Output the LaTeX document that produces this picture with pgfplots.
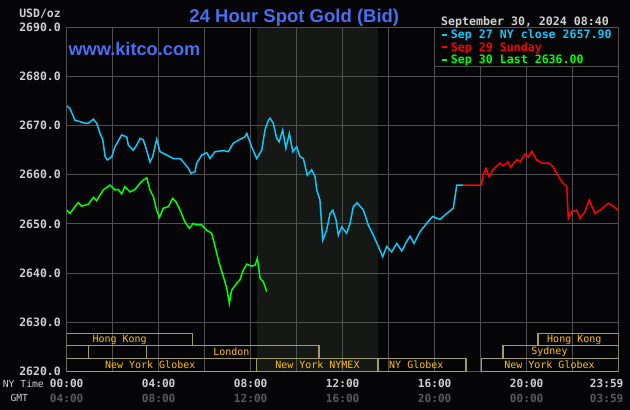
\documentclass[border=0pt]{standalone}
\usepackage{pgfplots}
\pgfplotsset{compat=1.18}
\usepackage{fontspec}
\setmainfont{Liberation Sans}
\newfontfamily\monof{DejaVu Sans Mono}
\newfontfamily\sansf{Liberation Sans}
\definecolor{bg}{HTML}{050507}
\definecolor{gridc}{HTML}{505050}
\definecolor{shadec}{HTML}{151815}
\definecolor{khaki}{HTML}{A09B6E}
\definecolor{gold}{HTML}{FFC300}
\definecolor{titlec}{HTML}{4B6EF0}
\definecolor{cyanc}{HTML}{10C8F8}
\definecolor{redc}{HTML}{FF0000}
\definecolor{greenc}{HTML}{00FF00}
\definecolor{labc}{HTML}{D0D0D0}
\definecolor{gmtc}{HTML}{5A5A5A}
\tikzset{sesslab/.style={text=gold, font=\monof\fontsize{10}{10}\selectfont, inner sep=0pt},
  sessbox/.style={draw=khaki, line width=1.5pt}}
\begin{document}
\begin{tikzpicture}
\useasboundingbox (0,0) rectangle (630pt,-410pt);
\fill[bg] (0,0) rectangle (630pt,-410pt);
% NYMEX session shading (8:20 - 13:30)
\fill[shadec] (256.7pt,-27.3pt) rectangle (378pt,-371.3pt);
\begin{axis}[
  at={(66.7pt,-371.3pt)}, anchor=south west,
  scale only axis, width=552pt, height=344pt,
  xmin=0, xmax=24, ymin=2620, ymax=2690,
  axis line style={draw=gridc, line width=1pt},
  xtick={0,4,8,12,16,20},
  minor xtick={2,6,10,14,18,22},
  xticklabels={{00:00\\\textcolor{gmtc}{04:00}},{04:00\\\textcolor{gmtc}{08:00}},{08:00\\\textcolor{gmtc}{12:00}},{12:00\\\textcolor{gmtc}{16:00}},{16:00\\\textcolor{gmtc}{20:00}},{20:00\\\textcolor{gmtc}{00:00}}},
  extra x ticks={24},
  extra x tick labels={{23:59\\\textcolor{gmtc}{03:59}}},
  extra x tick style={xticklabel style={xshift=-12pt}},
  ytick={2620,2630,2640,2650,2660,2670,2680,2690},
  yticklabel={\pgfmathprintnumber[fixed,fixed zerofill,precision=1,1000 sep={},assume math mode=true]{\tick}},
  grid=both,
  major grid style={draw=gridc, line width=1pt},
  minor grid style={draw=gridc, line width=1pt},
  major tick length=0pt, minor tick length=0pt,
  xticklabel style={font=\monof\bfseries\fontsize{11.1}{14.4}\selectfont, text=labc, align=center, inner sep=0pt, yshift=-8pt},
  yticklabel style={font=\monof\bfseries\fontsize{11.5}{12}\selectfont, text=labc, inner sep=0pt, xshift=-5.7pt},
  legend style={at={(rel axis cs:1,1)}, anchor=north east,
    draw=gridc, line width=1pt, fill=bg,
    font=\monof\bfseries\fontsize{11.6}{12}\selectfont,
    inner xsep=6.6pt, inner ysep=0.6pt, row sep=0pt,
    nodes={inner sep=0pt, text height=10.4pt, text depth=2.1pt},
    /tikz/every odd column/.append style={column sep=4pt}},
  legend cell align=left,
  legend image code/.code={\fill[draw=none] (0pt,-1pt) rectangle (5.4pt,1pt);},
]
\addplot[color=cyanc, line width=1.5pt, mark=none] coordinates {
(0.00,2674.0) (0.14,2673.5) (0.36,2671.1) (0.58,2670.8) (0.80,2670.5) (0.94,2670.5)
(1.16,2671.3) (1.30,2670.5) (1.45,2668.4) (1.57,2667.1) (1.67,2663.7) (1.77,2663.0)
(1.96,2663.7) (2.10,2665.7) (2.39,2668.1) (2.61,2667.7) (2.68,2666.0) (2.90,2665.0)
(3.04,2666.0) (3.19,2667.4) (3.33,2667.1) (3.45,2665.4) (3.62,2662.6) (3.74,2663.7)
(3.91,2667.2) (4.06,2664.7) (4.35,2664.0) (4.63,2663.3) (4.93,2663.3) (5.07,2662.6)
(5.29,2661.3) (5.40,2660.3) (5.58,2660.6) (5.65,2662.3) (5.87,2664.0) (6.09,2664.5)
(6.23,2663.3) (6.45,2664.7) (6.81,2664.9) (7.03,2664.7) (7.24,2666.4) (7.53,2667.2)
(7.75,2667.7) (7.83,2668.4) (8.04,2665.7) (8.26,2663.3) (8.48,2665.0) (8.62,2669.1)
(8.77,2671.1) (8.84,2671.5) (8.98,2670.5) (9.13,2667.4) (9.24,2666.7) (9.39,2669.1)
(9.53,2665.4) (9.68,2668.4) (9.83,2664.7) (10.00,2665.7) (10.14,2663.7) (10.29,2663.3)
(10.46,2659.9) (10.65,2661.0) (10.80,2659.6) (10.87,2656.9) (11.01,2654.9) (11.13,2646.7)
(11.30,2648.7) (11.45,2652.1) (11.57,2652.8) (11.71,2650.8) (11.81,2647.7) (11.96,2649.4)
(12.17,2648.1) (12.32,2650.1) (12.46,2653.5) (12.63,2654.3) (12.90,2652.8) (13.11,2649.8)
(13.33,2647.7) (13.55,2645.4) (13.74,2643.3) (13.91,2645.4) (14.13,2644.3) (14.35,2646.0)
(14.57,2644.5) (14.78,2646.4) (14.93,2647.5) (15.10,2646.0) (15.36,2648.4) (15.65,2650.1)
(15.91,2651.5) (16.23,2650.9) (16.52,2652.1) (16.81,2653.2) (16.96,2657.9) (17.24,2657.9)
};
\addlegendentry{\textcolor{cyanc}{Sep 27 NY close 2657.90}}

\addplot[color=redc, line width=1.5pt, mark=none] coordinates {
(17.24,2657.9) (18.04,2657.9) (18.09,2659.9) (18.23,2661.3) (18.37,2659.6) (18.52,2661.0)
(18.84,2662.4) (18.98,2661.8) (19.20,2662.6) (19.30,2661.5) (19.57,2663.1) (19.71,2662.6)
(19.93,2664.2) (20.07,2663.6) (20.22,2664.8) (20.43,2663.0) (20.72,2662.3) (20.94,2662.4)
(21.16,2661.6) (21.30,2660.3) (21.52,2658.6) (21.74,2657.6) (21.81,2651.1) (21.96,2652.5)
(22.17,2652.8) (22.32,2651.1) (22.53,2652.5) (22.72,2654.9) (22.97,2652.1) (23.19,2652.8)
(23.55,2654.2) (23.77,2653.6) (23.98,2652.7)
};
\addlegendentry{\textcolor{redc}{Sep 29 Sunday}}

\addplot[color=greenc, line width=1.5pt, mark=none] coordinates {
(0.00,2652.8) (0.14,2652.1) (0.36,2653.5) (0.50,2654.3) (0.65,2653.6) (0.94,2654.0)
(1.16,2655.4) (1.30,2654.7) (1.59,2656.9) (1.88,2657.9) (2.10,2656.9) (2.24,2657.0)
(2.39,2656.1) (2.53,2657.6) (2.75,2656.5) (2.97,2657.0) (3.19,2658.3) (3.33,2658.9)
(3.48,2659.4) (3.62,2656.9) (3.77,2655.5) (3.91,2652.8) (4.03,2651.3) (4.20,2653.2)
(4.42,2653.5) (4.61,2655.2) (4.75,2654.5) (4.93,2652.8) (5.14,2650.4) (5.33,2649.1)
(5.50,2650.1) (5.65,2649.8) (5.87,2649.8) (6.09,2648.7) (6.30,2648.1) (6.45,2645.4)
(6.63,2642.0) (6.81,2639.3) (6.96,2636.9) (7.07,2633.8) (7.17,2636.5) (7.39,2637.9)
(7.53,2638.6) (7.68,2640.6) (7.83,2641.8) (8.04,2641.4) (8.19,2641.6) (8.29,2643.0)
(8.41,2638.9) (8.55,2638.2) (8.70,2636.2)
};
\addlegendentry{\textcolor{greenc}{Sep 30 Last 2636.00}}

% trading session boxes
\draw[sessbox] (axis cs:0,2625.21) rectangle (axis cs:5.48,2627.73);
\draw[sessbox] (axis cs:20.5,2625.21) rectangle (axis cs:24,2627.73);
\draw[sessbox] (axis cs:0,2622.65) rectangle (axis cs:0.94,2625.21);
\draw[sessbox] (axis cs:3.48,2622.65) rectangle (axis cs:10.97,2625.21);
\draw[sessbox] (axis cs:18.98,2622.65) rectangle (axis cs:24,2625.21);
\draw[sessbox] (axis cs:0,2620) rectangle (axis cs:8.26,2622.65);
\draw[sessbox] (axis cs:8.26,2620) rectangle (axis cs:13.53,2622.65);
\draw[sessbox] (axis cs:13.53,2620) rectangle (axis cs:17.35,2622.65);
\draw[sessbox] (axis cs:18.03,2620) rectangle (axis cs:24,2622.65);
\node[sesslab] at (axis cs:2.30,2626.47) {Hong Kong};
\node[sesslab] at (axis cs:22.07,2626.47) {Hong Kong};
\node[sesslab] at (axis cs:7.16,2623.93) {London};
\node[sesslab] at (axis cs:20.99,2623.93) {Sydney};
\node[sesslab] at (axis cs:3.63,2621.34) {New York Globex};
\node[sesslab] at (axis cs:10.90,2621.34) {New York NYMEX};
\node[sesslab] at (axis cs:15.20,2621.34) {NY Globex};
\node[sesslab] at (axis cs:20.99,2621.34) {New York Globex};
\end{axis}
% titles and annotations
\node[anchor=base, inner sep=0pt, text=titlec, font=\sansf\bfseries\fontsize{18.5}{20}\selectfont] at (294.3pt,-22.3pt) {24 Hour Spot Gold (Bid)};
\node[anchor=base west, inner sep=0pt, text=titlec, font=\sansf\bfseries\fontsize{18.2}{20}\selectfont] at (68.3pt,-55pt) {www.kitco.com};
\node[anchor=base east, inner sep=0pt, text=labc, font=\monof\bfseries\fontsize{11.5}{12}\selectfont] at (61pt,-17.3pt) {USD/oz};
\node[anchor=base west, inner sep=0pt, text=labc, font=\monof\bfseries\fontsize{11.6}{12}\selectfont] at (441pt,-25pt) {September 30, 2024 08:40};
\node[anchor=base west, inner sep=0pt, text=labc, font=\monof\fontsize{9.7}{10}\selectfont] at (2.7pt,-387.3pt) {NY Time};
\node[anchor=base, inner sep=0pt, text=labc, font=\monof\fontsize{9.7}{10}\selectfont] at (19.3pt,-401.7pt) {GMT};
\end{tikzpicture}
\end{document}
